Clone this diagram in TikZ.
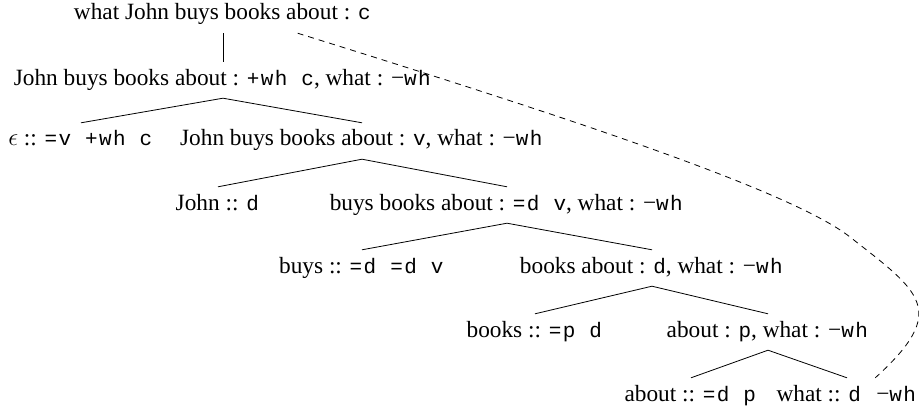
\documentclass[tikz,border=0pt]{standalone}
\usepackage{fontspec}
\setmainfont{Liberation Serif}
\setmonofont{Liberation Mono}[Scale=0.9, LetterSpace=6.7]
\usepackage{tikz}
\usetikzlibrary{calc}
\newcommand{\ft}[1]{\texttt{#1}}
\tikzset{
	lab/.style={anchor=base, inner xsep=0pt, inner ysep=8pt, text height=15pt, text depth=5pt,
		font=\fontsize{23.3}{28}\selectfont},
	br/.style={line width=0.8pt},
	mv/.style={line width=0.8pt, dash pattern=on 6pt off 5pt}
}

\begin{document}
\begin{tikzpicture}[x=1pt, y=-1pt]
	% Frame, nodes and branches:
	\useasboundingbox (0, 0) rectangle (919, 412);
	\node[lab](N1) at (223, 20){what John buys books about : \ft{c}};
	\node[lab](N2) at (223, 85){John buys books about : \ft{+wh c}, what : −\ft{wh}};
	\node[lab](N3) at (81, 146){$\epsilon$ :: \ft{=v +wh c}};
	\node[lab](N4) at (362, 146){John buys books about : \ft{v}, what : −\ft{wh}};
	\node[lab](N5) at (218, 210){John :: \ft{d}};
	\node[lab](N6) at (507, 210){buys books about : \ft{=d v}, what : −\ft{wh}};
	\node[lab](N7) at (362, 273){buys :: \ft{=d =d v}};
	\node[lab](N8) at (652, 273){books about : \ft{d}, what : −\ft{wh}};
	\node[lab](N9) at (535, 337){books :: \ft{=p d}};
	\node[lab](N10) at (768, 337){about : \ft{p}, what : −\ft{wh}};
	\node[lab](N11) at (691, 401){about :: \ft{=d p}};
	\node[lab](N12) at (847, 401){what :: \ft{d~}−\ft{wh}};
	\draw[br] (N1.south) -- (N2.north);
	\draw[br] (N3.north) -- (N2.south) -- (N4.north);
	\draw[br] (N5.north) -- (N4.south) -- (N6.north);
	\draw[br] (N7.north) -- (N6.south) -- (N8.north);
	\draw[br] (N9.north) -- (N8.south) -- (N10.north);
	\draw[br] (N11.north) -- (N10.south) -- (N12.north);
	\coordinate (M1) at ($(N1.south)!0.5!(N1.south east)$);
	\coordinate (M2) at ($(N12.north)!0.4!(N12.north east)$);
	\draw[mv] (M1) .. controls (560, 115) and (790, 190) .. (850, 237)
		.. controls (920, 292) and (950, 310) .. (M2);
\end{tikzpicture}
\end{document}
